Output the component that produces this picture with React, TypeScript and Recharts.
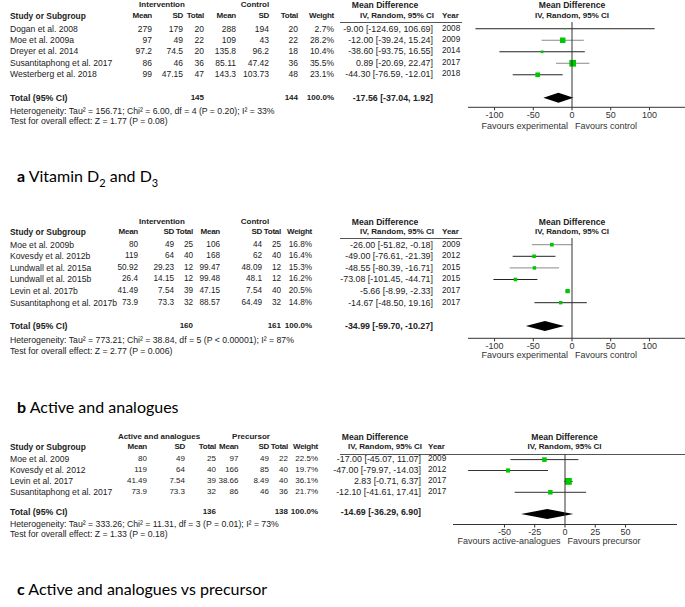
import React from "react";
import { ComposedChart, Bar, XAxis, YAxis, ReferenceLine } from "recharts";

// ---------- a: Vitamin D2 and D3 ----------
const studiesA = ["Dogan et al. 2008", "Moe et al. 2009a", "Dreyer et al. 2014", "Susantitaphong et al. 2017", "Westerberg et al. 2018"];
const intMeanA = [279, 97, 97.2, 86, 99];
const intSdA = [179, 49, 74.5, 46, 47.15];
const intNA = [20, 22, 20, 36, 47];
const ctlMeanA = [288, 109, 135.8, 85.11, 143.3];
const ctlSdA = [194, 43, 96.2, 47.42, 103.73];
const ctlNA = [20, 22, 18, 36, 48];
const weightA = [2.7, 28.2, 10.4, 35.5, 23.1];
const mdA = [-9.0, -12.0, -38.6, 0.89, -44.3];
const lowA = [-124.69, -39.24, -93.75, -20.69, -76.59];
const highA = [106.69, 15.24, 16.55, 22.47, -12.01];
const yearA = [2008, 2009, 2014, 2017, 2018];
const totalNA = [145, 144];
const totalCiA = [-17.56, -37.04, 1.92];
const hetA = "Heterogeneity: Tau² = 156.71; Chi² = 6.00, df = 4 (P = 0.20); I² = 33%";
const testA = "Test for overall effect: Z = 1.77 (P = 0.08)";

// ---------- b: Active and analogues ----------
const studiesB = ["Moe et al. 2009b", "Kovesdy et al. 2012b", "Lundwall et al. 2015a", "Lundwall et al. 2015b", "Levin et al. 2017b", "Susantitaphong et al. 2017b"];
const intMeanB = [80, 119, 50.92, 26.4, 41.49, 73.9];
const intSdB = [49, 64, 29.23, 14.15, 7.54, 73.3];
const intNB = [25, 40, 12, 12, 39, 32];
const ctlMeanB = [106, 168, 99.47, 99.48, 47.15, 88.57];
const ctlSdB = [44, 62, 48.09, 48.1, 7.54, 64.49];
const ctlNB = [25, 40, 12, 12, 40, 32];
const weightB = [16.8, 16.4, 15.3, 16.2, 20.5, 14.8];
const mdB = [-26.0, -49.0, -48.55, -73.08, -5.66, -14.67];
const lowB = [-51.82, -76.61, -80.39, -101.45, -8.99, -48.5];
const highB = [-0.18, -21.39, -16.71, -44.71, -2.33, 19.16];
const yearB = [2009, 2012, 2015, 2015, 2017, 2017];
const totalNB = [160, 161];
const totalCiB = [-34.99, -59.7, -10.27];
const hetB = "Heterogeneity: Tau² = 773.21; Chi² = 38.84, df = 5 (P < 0.00001); I² = 87%";
const testB = "Test for overall effect: Z = 2.77 (P = 0.006)";

// ---------- c: Active and analogues vs precursor ----------
const studiesC = ["Moe et al. 2009", "Kovesdy et al. 2012", "Levin et al. 2017", "Susantitaphong et al. 2017"];
const intMeanC = [80, 119, 41.49, 73.9];
const intSdC = [49, 64, 7.54, 73.3];
const intNC = [25, 40, 39, 32];
const ctlMeanC = [97, 166, 38.66, 86];
const ctlSdC = [49, 85, 8.49, 46];
const ctlNC = [22, 40, 40, 36];
const weightC = [22.5, 19.7, 36.1, 21.7];
const mdC = [-17.0, -47.0, 2.83, -12.1];
const lowC = [-45.07, -79.97, -0.71, -41.61];
const highC = [11.07, -14.03, 6.37, 17.41];
const yearC = [2009, 2012, 2017, 2017];
const totalNC = [136, 138];
const totalCiC = [-14.69, -36.29, 6.9];
const hetC = "Heterogeneity: Tau² = 333.26; Chi² = 11.31, df = 3 (P = 0.01); I² = 73%";
const testC = "Test for overall effect: Z = 1.33 (P = 0.18)";

const ticksAB = [-100, -50, 0, 50, 100];
const ticksC = [-50, -25, 0, 25, 50];

const FONT = '"Liberation Sans", Arial, sans-serif';
const GREEN = "#00c800";
const TXT = "#222";

// text sizes (the source figure's font has wide letters but narrow digits)
const NAME = 8.6;
const NOTE = 8.7;
const YEAR = 8.2;
const MD = 8.9;
const HEAD = 8;
const TOT = 8.8;

function Txt({ x, y, children, align = "left", bold = false, size = NAME, color = TXT, family = FONT, ls = 0 }: any) {
  const tx = align === "right" ? "-100%" : align === "center" ? "-50%" : "0";
  return (
    <div
      style={{
        position: "absolute",
        left: x,
        top: y,
        transform: `translate(${tx}, -50%)`,
        fontSize: size,
        fontWeight: bold ? 700 : 400,
        color,
        fontFamily: family,
        whiteSpace: "nowrap",
        lineHeight: 1,
        letterSpacing: ls,
      }}
    >
      {children}
    </div>
  );
}

function ForestMark(props: any) {
  const { x, y, width, height, payload } = props;
  if (!payload || payload.low == null) return <g />;
  const cy = y + height / 2;
  const cx = x + (width * (payload.md - payload.low)) / (payload.high - payload.low);
  if (payload.total) {
    const h = 5;
    return (
      <polygon
        points={`${x},${cy} ${cx},${cy - h} ${x + width},${cy} ${cx},${cy + h}`}
        fill="#000"
      />
    );
  }
  const s = 1 + 0.16 * payload.weight;
  return (
    <g>
      <line x1={x} y1={cy} x2={x + width} y2={cy} stroke={payload.line} strokeWidth={1} />
      <rect x={cx - s / 2} y={cy - s / 2} width={s} height={s} fill={GREEN} />
    </g>
  );
}

const fmt2 = (v: number) => v.toFixed(2);
const ciText = (m: number, l: number, h: number) => `${fmt2(m)} [${fmt2(l)}, ${fmt2(h)}]`;

function Panel({ d, L }: any) {
  const rows: any[] = d.studies.map((s: string, i: number) => ({
    key: "r" + i,
    ci: [d.low[i], d.high[i]],
    md: d.md[i],
    low: d.low[i],
    high: d.high[i],
    weight: d.weight[i],
    line: L.lineShade[i],
  }));
  rows.push({ key: "gap", ci: null });
  rows.push({
    key: "total",
    ci: [d.totalCi[1], d.totalCi[2]],
    md: d.totalCi[0],
    low: d.totalCi[1],
    high: d.totalCi[2],
    total: true,
  });

  const rowY = (i: number) => L.rowY0 + i * L.rowStep;
  const numCols = [d.intMean, d.intSd, d.intN, d.ctlMean, d.ctlSd, d.ctlN];
  const colHeads = ["Mean", "SD", "Total", "Mean", "SD", "Total", "Weight"];
  const P = L.plot;

  return (
    <>
      {/* group headers */}
      <Txt x={L.groupX[0]} y={L.groupY} align="center" bold size={HEAD}>{L.groupNames[0]}</Txt>
      <Txt x={L.groupX[1]} y={L.groupY} align="center" bold size={HEAD}>{L.groupNames[1]}</Txt>
      <Txt x={L.mdHeadX} y={L.groupY} align="center" bold size={8.6}>Mean Difference</Txt>
      <Txt x={P.headX} y={L.groupY} align="center" bold size={8.6}>Mean Difference</Txt>

      {/* column headers */}
      <Txt x={10} y={L.headY} bold size={8.4}>Study or Subgroup</Txt>
      {colHeads.map((h, j) => (
        <Txt key={"h" + j} x={L.cols[j]} y={L.headY} align="right" bold size={HEAD} ls={-0.25}>{h}</Txt>
      ))}
      <Txt x={L.mdRight} y={L.headY} align="right" bold size={HEAD}>IV, Random, 95% CI</Txt>
      <Txt x={L.yearX} y={L.headY} bold size={HEAD}>Year</Txt>
      <Txt x={P.headX} y={L.headY} align="center" bold size={HEAD}>IV, Random, 95% CI</Txt>
      <div style={{ position: "absolute", left: 340, top: L.lineY, width: L.lineW, height: 1, background: "#555" }} />

      {/* study rows */}
      {d.studies.map((s: string, i: number) => (
        <React.Fragment key={s}>
          <Txt x={10} y={rowY(i)}>{s}</Txt>
          {numCols.map((c: number[], j: number) => (
            <Txt key={j} x={L.cols[j]} y={rowY(i)} align="right" size={L.num}>{String(c[i])}</Txt>
          ))}
          <Txt x={L.cols[6]} y={rowY(i)} align="right" size={L.num}>{d.weight[i].toFixed(1)}%</Txt>
          <Txt x={L.mdRight - 1} y={rowY(i)} align="right" size={MD}>{ciText(d.md[i], d.low[i], d.high[i])}</Txt>
          <Txt x={L.yearX} y={rowY(i)} size={YEAR}>{String(d.year[i])}</Txt>
        </React.Fragment>
      ))}

      {/* total */}
      <Txt x={10} y={L.totalY} bold size={TOT}>Total (95% CI)</Txt>
      <Txt x={L.cols[2]} y={L.totalY} align="right" bold size={HEAD}>{String(d.totalN[0])}</Txt>
      <Txt x={L.cols[5]} y={L.totalY} align="right" bold size={HEAD}>{String(d.totalN[1])}</Txt>
      <Txt x={L.cols[6]} y={L.totalY} align="right" bold size={HEAD}>100.0%</Txt>
      <Txt x={L.mdRight - 1} y={L.totalY} align="right" bold size={TOT}>{ciText(d.totalCi[0], d.totalCi[1], d.totalCi[2])}</Txt>
      <Txt x={10} y={L.hetY} size={NOTE}>{d.het}</Txt>
      <Txt x={10} y={L.testY} size={NOTE}>{d.test}</Txt>

      {/* forest plot */}
      <div style={{ position: "absolute", left: P.left, top: P.top }}>
        <ComposedChart
          layout="vertical"
          width={P.width}
          height={P.plotH + 22}
          data={rows}
          margin={{ top: 0, right: 0, bottom: 0, left: 0 }}
          barCategoryGap={0}
        >
          <XAxis
            type="number"
            domain={P.domain}
            ticks={P.ticks}
            interval={0}
            allowDataOverflow
            height={22}
            tickSize={3}
            tickMargin={1}
            axisLine={{ stroke: "#333" }}
            tickLine={{ stroke: "#333" }}
            tick={{ fontSize: 9, fill: "#333", fontFamily: FONT }}
          />
          <YAxis type="category" dataKey="key" hide padding={{ top: P.padTop, bottom: P.padBottom }} />
          <ReferenceLine x={0} stroke="#333" strokeWidth={1} ifOverflow="extendDomain" />
          <Bar dataKey="ci" shape={<ForestMark />} isAnimationActive={false} />
        </ComposedChart>
      </div>
      <Txt x={P.favSplit - 3.5} y={P.favY} align="right" size={9} color="#333">{P.favours[0]}</Txt>
      <Txt x={P.favSplit + 3.5} y={P.favY} size={9} color="#333">{P.favours[1]}</Txt>

      {/* panel label */}
      <Txt x={17} y={L.labelY} size={16} color="#000" family='Lato, "Open Sans", sans-serif'>
        <b>{L.label[0]}</b> {L.label[1]}
      </Txt>
    </>
  );
}

const dataA = { studies: studiesA, intMean: intMeanA, intSd: intSdA, intN: intNA, ctlMean: ctlMeanA, ctlSd: ctlSdA, ctlN: ctlNA, weight: weightA, md: mdA, low: lowA, high: highA, year: yearA, totalN: totalNA, totalCi: totalCiA, het: hetA, test: testA };
const dataB = { studies: studiesB, intMean: intMeanB, intSd: intSdB, intN: intNB, ctlMean: ctlMeanB, ctlSd: ctlSdB, ctlN: ctlNB, weight: weightB, md: mdB, low: lowB, high: highB, year: yearB, totalN: totalNB, totalCi: totalCiB, het: hetB, test: testB };
const dataC = { studies: studiesC, intMean: intMeanC, intSd: intSdC, intN: intNC, ctlMean: ctlMeanC, ctlSd: ctlSdC, ctlN: ctlNC, weight: weightC, md: mdC, low: lowC, high: highC, year: yearC, totalN: totalNC, totalCi: totalCiC, het: hetC, test: testC };

const sub = (t: string) => <sub style={{ fontSize: 11 }}>{t}</sub>;

const layoutA = {
  groupY: 5, headY: 16.3, rowY0: 28.6, rowStep: 11.4, totalY: 97.6, hetY: 110.5, testY: 120.5,
  cols: [152, 183, 204, 236, 269, 298, 334], num: 8.5,
  groupX: [162, 255], groupNames: ["Intervention", "Control"],
  mdHeadX: 385, mdRight: 434, yearX: 442, lineY: 21.5, lineW: 122,
  lineShade: ["#222", "#8a8a8a", "#222", "#8a8a8a", "#222"],
  labelY: 178, label: ["a", <>Vitamin D{sub("2")} and D{sub("3")}</>],
  plot: {
    left: 468, top: 22, width: 217, plotH: 85.3, padTop: 0.75, padBottom: 4,
    domain: [-134.3, 145.9], ticks: ticksAB, headX: 572, favY: 125.7, favSplit: 571.5,
    favours: ["Favours experimental", "Favours control"],
  },
};

const layoutB = {
  groupY: 222, headY: 232.3, rowY0: 244.5, rowStep: 11.6, totalY: 326, hetY: 339.5, testY: 351,
  cols: [138, 174, 193, 220, 262, 281, 312], num: 8.2,
  groupX: [162, 255], groupNames: ["Intervention", "Control"],
  mdHeadX: 385, mdRight: 434, yearX: 442, lineY: 238, lineW: 122,
  lineShade: ["#8a8a8a", "#222", "#8a8a8a", "#222", "#8a8a8a", "#222"],
  labelY: 406.7, label: ["b", "Active and analogues"],
  plot: {
    left: 468, top: 238, width: 217, plotH: 100.3, padTop: 0.7, padBottom: 6.8,
    domain: [-134.3, 145.9], ticks: ticksAB, headX: 572, favY: 355, favSplit: 571.5,
    favours: ["Favours experimental", "Favours control"],
  },
};

const layoutC = {
  groupY: 436.5, headY: 447.3, rowY0: 459.3, rowStep: 10.9, totalY: 512.3, hetY: 524, testY: 534,
  cols: [147, 185, 216, 238.5, 269, 288, 318], num: 8,
  groupX: [159, 251], groupNames: ["Active and analogues", "Precursor"],
  mdHeadX: 375, mdRight: 422, yearX: 428, lineY: 454, lineW: 345,
  lineShade: ["#333", "#333", "#333", "#333"],
  labelY: 589, label: ["c", "Active and analogues vs precursor"],
  plot: {
    left: 452.7, top: 453.5, width: 224, plotH: 70.5, padTop: 0.1, padBottom: 5,
    domain: [-92.5, 92.5], ticks: ticksC, headX: 564.5, favY: 541, favSplit: 564,
    favours: ["Favours active-analogues", "Favours precursor"],
  },
};

export default function App() {
  return (
    <div
      style={{
        position: "absolute",
        left: 0,
        top: 0,
        width: 685,
        height: 607,
        background: "#fff",
        overflow: "hidden",
        fontFamily: FONT,
      }}
    >
      <Panel d={dataA} L={layoutA} />
      <Panel d={dataB} L={layoutB} />
      <Panel d={dataC} L={layoutC} />
    </div>
  );
}
